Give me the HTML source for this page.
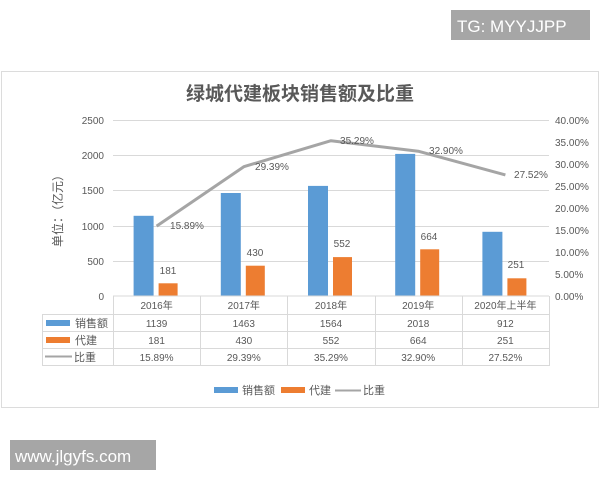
<!DOCTYPE html>
<html><head><meta charset="utf-8"><style>
body{margin:0;background:#fff;width:600px;height:480px;overflow:hidden}
svg{display:block}
text{font-family:"Liberation Sans","Noto Sans CJK SC",sans-serif;fill:#595959}
</style></head><body>
<svg width="600" height="480" viewBox="0 0 600 480">
<rect x="0" y="0" width="600" height="480" fill="#fff"/>
<rect x="1.5" y="71.5" width="597" height="336" fill="#fff" stroke="#dcdcdc"/>
<rect x="451" y="10" width="139" height="30" fill="#a6a6a6"/>
<text x="457" y="32" font-size="17" style="fill:#fff">TG: MYYJJPP</text>
<rect x="10" y="440" width="146" height="30" fill="#a6a6a6"/>
<text x="15" y="462" font-size="17" style="fill:#fff">www.jlgyfs.com</text>
<text x="300" y="100" font-size="19" font-weight="bold" text-anchor="middle">绿城代建板块销售额及比重</text>
<g stroke="#d9d9d9" stroke-width="1">
<line x1="113" y1="120.5" x2="549" y2="120.5"/>
<line x1="113" y1="155.5" x2="549" y2="155.5"/>
<line x1="113" y1="190.5" x2="549" y2="190.5"/>
<line x1="113" y1="226.5" x2="549" y2="226.5"/>
<line x1="113" y1="261.5" x2="549" y2="261.5"/>
</g>
<g font-size="10" text-anchor="end">
<text x="104" y="124">2500</text><text x="104" y="159">2000</text><text x="104" y="194">1500</text>
<text x="104" y="230">1000</text><text x="104" y="265">500</text><text x="104" y="300">0</text>
</g>
<g font-size="10">
<text x="555" y="124">40.00%</text><text x="555" y="146">35.00%</text><text x="555" y="168">30.00%</text>
<text x="555" y="190">25.00%</text><text x="555" y="212">20.00%</text><text x="555" y="234">15.00%</text>
<text x="555" y="256">10.00%</text><text x="555" y="278">5.00%</text><text x="555" y="300">0.00%</text>
</g>
<text transform="translate(62,208) rotate(-90)" font-size="12" text-anchor="middle">单位：（亿元）</text>
<g fill="#5b9bd5">
<rect x="133.6" y="215.8" width="20" height="80.2"/>
<rect x="220.8" y="193" width="20" height="103"/>
<rect x="308" y="185.9" width="20" height="110.1"/>
<rect x="395.2" y="153.9" width="20" height="142.1"/>
<rect x="482.4" y="231.8" width="20" height="64.2"/>
</g>
<g fill="#ed7d31">
<rect x="158.6" y="283.3" width="19" height="12.7"/>
<rect x="245.8" y="265.7" width="19" height="30.3"/>
<rect x="333" y="257.1" width="19" height="38.9"/>
<rect x="420.2" y="249.3" width="19" height="46.7"/>
<rect x="507.4" y="278.3" width="19" height="17.7"/>
</g>
<polyline points="156.6,226.1 243.8,166.7 331,140.7 418.2,151.2 505.4,174.9" fill="none" stroke="#a5a5a5" stroke-width="3" stroke-linejoin="round"/>
<g font-size="10" text-anchor="middle">
<text x="168" y="274">181</text><text x="255" y="256">430</text><text x="342" y="247">552</text>
<text x="429" y="240">664</text><text x="516" y="268">251</text>
<text x="187" y="229">15.89%</text><text x="272" y="170">29.39%</text><text x="357" y="144">35.29%</text>
<text x="446" y="154">32.90%</text><text x="531" y="178">27.52%</text>
</g>
<g stroke="#d9d9d9" stroke-width="1" fill="none">
<line x1="113" y1="296" x2="549" y2="296"/>
<line x1="42" y1="314.5" x2="549" y2="314.5"/>
<line x1="42" y1="331.5" x2="549" y2="331.5"/>
<line x1="42" y1="348.5" x2="549" y2="348.5"/>
<line x1="42" y1="365.5" x2="549" y2="365.5"/>
<line x1="42.5" y1="314" x2="42.5" y2="366"/>
<line x1="113.5" y1="296" x2="113.5" y2="366"/>
<line x1="200.5" y1="296" x2="200.5" y2="366"/>
<line x1="287.5" y1="296" x2="287.5" y2="366"/>
<line x1="375.5" y1="296" x2="375.5" y2="366"/>
<line x1="462.5" y1="296" x2="462.5" y2="366"/>
<line x1="549.5" y1="296" x2="549.5" y2="366"/>
</g>
<g font-size="10" text-anchor="middle">
<text x="156.6" y="309">2016年</text><text x="243.8" y="309">2017年</text><text x="331" y="309">2018年</text>
<text x="418.2" y="309">2019年</text><text x="505.4" y="309">2020年上半年</text>
<text x="156.6" y="327">1139</text><text x="243.8" y="327">1463</text><text x="331" y="327">1564</text><text x="418.2" y="327">2018</text><text x="505.4" y="327">912</text>
<text x="156.6" y="344">181</text><text x="243.8" y="344">430</text><text x="331" y="344">552</text><text x="418.2" y="344">664</text><text x="505.4" y="344">251</text>
<text x="156.6" y="361">15.89%</text><text x="243.8" y="361">29.39%</text><text x="331" y="361">35.29%</text><text x="418.2" y="361">32.90%</text><text x="505.4" y="361">27.52%</text>
</g>
<rect x="46" y="320" width="24" height="6" fill="#5b9bd5"/>
<rect x="46" y="337" width="24" height="6" fill="#ed7d31"/>
<line x1="45" y1="356.5" x2="72" y2="356.5" stroke="#a5a5a5" stroke-width="2"/>
<g font-size="11"><text x="75" y="327">销售额</text><text x="75" y="344">代建</text><text x="74" y="361">比重</text></g>
<rect x="214" y="387" width="24" height="6" fill="#5b9bd5"/>
<text x="242" y="394" font-size="11">销售额</text>
<rect x="281" y="387" width="24" height="6" fill="#ed7d31"/>
<text x="309" y="394" font-size="11">代建</text>
<line x1="335" y1="390.5" x2="361" y2="390.5" stroke="#a5a5a5" stroke-width="2"/>
<text x="363" y="394" font-size="11">比重</text>
</svg>
</body></html>
